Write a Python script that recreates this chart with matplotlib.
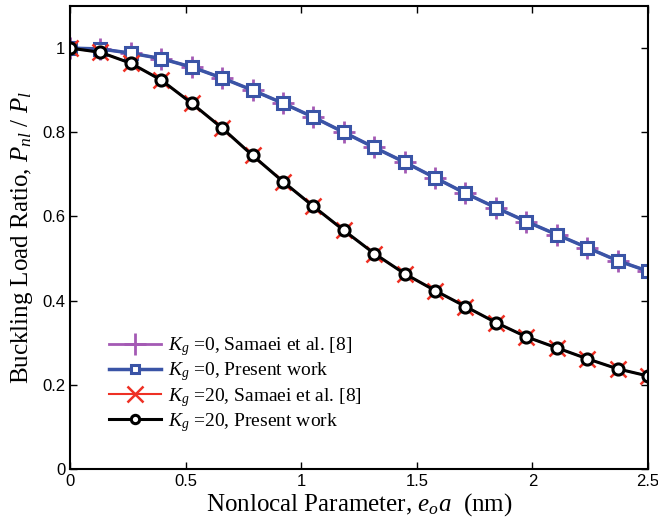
import matplotlib.pyplot as plt
import numpy as np

# nonlocal parameter e0a (nm), 20 points
ea = np.linspace(0, 2.5, 20)
kg0_samaei = [1.0, 0.998, 0.988, 0.975, 0.955, 0.929, 0.900, 0.869, 0.836, 0.800,
              0.764, 0.729, 0.692, 0.655, 0.621, 0.588, 0.557, 0.526, 0.495, 0.470]
kg0_present = list(kg0_samaei)
kg20_samaei = [1.0, 0.990, 0.964, 0.924, 0.869, 0.810, 0.745, 0.683, 0.624, 0.567,
               0.512, 0.464, 0.424, 0.386, 0.348, 0.314, 0.288, 0.262, 0.238, 0.221]
kg20_present = list(kg20_samaei)
xticks = [0, 0.5, 1, 1.5, 2, 2.5]
yticks = [0, 0.2, 0.4, 0.6, 0.8, 1]

plt.rcParams['mathtext.fontset'] = 'custom'
plt.rcParams['mathtext.rm'] = 'Liberation Serif'
plt.rcParams['mathtext.it'] = 'Liberation Serif:italic'
serif = 'Liberation Serif'

fig = plt.figure(figsize=(6.58, 5.32), dpi=100)
ax = fig.add_axes([0.1064, 0.1184, 0.8784, 0.8703])

ax.plot(ea, kg0_samaei, color='#a45ab4', lw=2, marker='+', ms=16, mew=2,
        label='$K_g$ =0, Samaei et al. [8]')
ax.plot(ea, kg0_present, color='#3a54a6', lw=2.5, marker='s', ms=8.5, mew=2.2,
        mfc='white', label='$K_g$ =0, Present work')
ax.plot(ea, kg20_samaei, color='#ee3024', lw=1.5, marker='x', ms=11, mew=1.8,
        label='$K_g$ =20, Samaei et al. [8]')
ax.plot(ea, kg20_present, color='black', lw=2.2, marker='o', ms=8, mew=2.2,
        mfc='white', label='$K_g$ =20, Present work')

ax.set_xlim(0, 2.5)
ax.set_ylim(0, 1.1)
ax.set_xticks(xticks)
ax.set_xticklabels(['0', '0.5', '1', '1.5', '2', '2.5'])
ax.set_yticks(yticks)
ax.set_yticklabels(['0', '0.2', '0.4', '0.6', '0.8', '1'])
ax.tick_params(direction='in', top=True, right=True, length=5, width=1,
               labelsize=12)
for lab in ax.get_xticklabels() + ax.get_yticklabels():
    lab.set_fontfamily('Liberation Sans')
for s in ax.spines.values():
    s.set_linewidth(1.5)

ax.set_xlabel('Nonlocal Parameter, $e_o a$  (nm)', fontsize=18, family=serif, labelpad=2)
ax.set_ylabel('Buckling Load Ratio, $P_{nl}$ / $P_l$', fontsize=18, family=serif, labelpad=5)

leg = ax.legend(loc='lower left', bbox_to_anchor=(0.05, 0.055), frameon=False,
                prop={'family': serif, 'size': 14}, handlelength=2.7,
                labelspacing=0.12, handletextpad=0.35, borderpad=0)
# smaller markers in the legend for squares and circles
leg.legend_handles[1].set_markersize(6)
leg.legend_handles[3].set_markersize(6)

fig.savefig('out.png', dpi=100)
